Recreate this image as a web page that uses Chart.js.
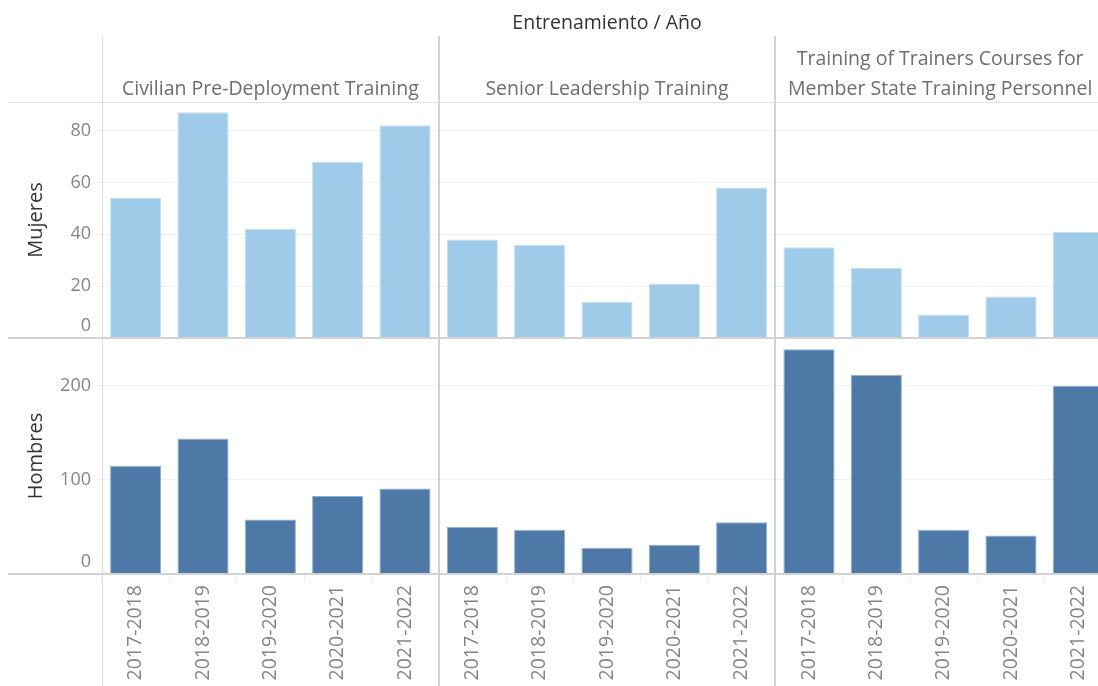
<!DOCTYPE html>
<html>
<head>
<meta charset="utf-8">
<script src="https://cdn.jsdelivr.net/npm/chart.js@4.4.1/dist/chart.umd.min.js"></script>
<style>
  html, body { margin: 0; padding: 0; background: #fff; overflow: hidden; }
  #wrap { position: absolute; left: 0; top: 0; width: 1112px; height: 686px; }
</style>
</head>
<body>
<div id="wrap"><canvas id="chart"></canvas></div>
<script>
// Entrenamientos (columnas) y años
const trainings = [
    ['Civilian Pre-Deployment Training'],
    ['Senior Leadership Training'],
    ['Training of Trainers Courses for', 'Member State Training Personnel']
];
const years = ['2017-2018', '2018-2019', '2019-2020', '2020-2021', '2021-2022'];

// Mujeres por entrenamiento
const mujeresCivilian = [54, 87, 42, 68, 82];
const mujeresSenior = [38, 36, 14, 21, 58];
const mujeresTrainers = [35, 27, 9, 16, 41];

// Hombres por entrenamiento
const hombresCivilian = [115, 144, 58, 83, 91];
const hombresSenior = [50, 47, 28, 31, 55];
const hombresTrainers = [239, 212, 47, 41, 200];

const mujeresTicks = [0, 20, 40, 60, 80];
const hombresTicks = [0, 100, 200];

const FONT = "'Open Sans', sans-serif";
const TICK_COLOR = '#858585';

const labels = trainings.flatMap(() => years);
const mujeres = [...mujeresCivilian, ...mujeresSenior, ...mujeresTrainers];
const hombres = [...hombresCivilian, ...hombresSenior, ...hombresTrainers];

// Cabeceras, separadores y etiquetas "0" al estilo Tableau
const panesPlugin = {
    id: 'panes',
    afterDraw(chart) {
        const { ctx, chartArea, scales } = chart;
        const x = scales.x, yM = scales.yM, yH = scales.yH;
        const half = (x.getPixelForValue(1) - x.getPixelForValue(0)) / 2;
        const edges = [0, 5, 10].map(i => x.getPixelForValue(i) - half);
        const rightEdge = chartArea.right;

        ctx.save();
        // linea superior del panel
        ctx.strokeStyle = '#e2e2e2';
        ctx.lineWidth = 1;
        ctx.beginPath();
        ctx.moveTo(8, Math.round(chartArea.top) + 0.5);
        ctx.lineTo(rightEdge, Math.round(chartArea.top) + 0.5);
        ctx.stroke();

        // lineas base
        ctx.strokeStyle = '#d2d2d2';
        ctx.lineWidth = 2;
        [yM.getPixelForValue(0), yH.getPixelForValue(0)].forEach(y => {
            ctx.beginPath();
            ctx.moveTo(8, Math.round(y));
            ctx.lineTo(rightEdge, Math.round(y));
            ctx.stroke();
        });

        // separadores verticales
        edges.forEach((ex, i) => {
            ctx.strokeStyle = i === 0 ? '#dcdcdc' : '#d2d2d2';
            ctx.lineWidth = i === 0 ? 1 : 2;
            const px = i === 0 ? Math.round(ex) + 0.5 : Math.round(ex);
            ctx.beginPath();
            ctx.moveTo(px, 36);
            ctx.lineTo(px, chart.height);
            ctx.stroke();
        });

        // titulo superior
        ctx.fillStyle = '#333333';
        ctx.font = "19.5px " + FONT;
        ctx.textAlign = 'center';
        ctx.textBaseline = 'middle';
        ctx.fillText('Entrenamiento / Año', (chartArea.left + chartArea.right) / 2, 23);

        // cabeceras de columna
        ctx.fillStyle = '#6e6e6e';
        trainings.forEach((lines, i) => {
            const l = edges[i];
            const r = i < 2 ? edges[i + 1] : rightEdge;
            let cx = (l + r) / 2;
            if (i === 2) cx = (cx + (l + Math.min(r, 1098)) / 2) / 2;
            lines.forEach((t, j) => {
                const y = 89 - (lines.length - 1 - j) * 30;
                ctx.fillText(t, cx, y);
            });
        });

        // etiquetas "0" desplazadas hacia arriba
        ctx.fillStyle = TICK_COLOR;
        ctx.textAlign = 'right';
        ctx.font = "18px " + FONT;
        [yM, yH].forEach(s => {
            ctx.fillText('0', s.right - 11, s.getPixelForValue(0) - 12);
        });
        ctx.restore();
    }
};

function yScale(title, max, ticks) {
    return {
        type: 'linear',
        position: 'left',
        stack: 'panes',
        stackWeight: 1,
        min: 0,
        max: max,
        afterBuildTicks: s => { s.ticks = ticks.map(v => ({ value: v })); },
        ticks: {
            color: TICK_COLOR,
            font: { family: FONT, size: 18 },
            padding: 5,
            callback: v => v === 0 ? '' : v
        },
        grid: {
            color: c => c.tick && c.tick.value === 0 ? 'rgba(0,0,0,0)' : '#efefef',
            tickLength: 6
        },
        border: { display: false },
        title: {
            display: true,
            text: title,
            color: '#333333',
            font: { family: FONT, size: 20 },
            padding: { top: 24, bottom: 0 }
        },
        afterFit: s => { s.width = 102; }
    };
}

const ctx = document.getElementById('chart').getContext('2d');
new Chart(ctx, {
    type: 'bar',
    data: {
        labels: labels,
        datasets: [
            {
                label: 'Mujeres',
                data: mujeres,
                yAxisID: 'yM',
                grouped: false,
                backgroundColor: '#a0cbe8',
                borderColor: '#c4e0f3',
                borderWidth: 1,
                categoryPercentage: 1,
                barPercentage: 0.76
            },
            {
                label: 'Hombres',
                data: hombres,
                yAxisID: 'yH',
                grouped: false,
                backgroundColor: '#4e79a7',
                borderColor: '#8fb0d0',
                borderWidth: 1,
                categoryPercentage: 1,
                barPercentage: 0.76
            }
        ]
    },
    options: {
        responsive: true,
        maintainAspectRatio: false,
        animation: false,
        layout: { padding: { top: 102, left: 0, right: 0, bottom: 0 } },
        plugins: {
            legend: { display: false },
            tooltip: { enabled: false }
        },
        scales: {
            x: {
                type: 'category',
                offset: true,
                grid: {
                    offset: true,
                    drawOnChartArea: false,
                    tickLength: 8,
                    color: '#ececec'
                },
                border: { display: false },
                ticks: {
                    autoSkip: false,
                    minRotation: 90,
                    maxRotation: 90,
                    padding: 3,
                    color: TICK_COLOR,
                    font: { family: FONT, size: 19.5 }
                },
                afterFit: s => { s.height = 112; }
            },
            yH: Object.assign(yScale('Hombres', 251, hombresTicks), { weight: 0 }),
            yM: Object.assign(yScale('Mujeres', 91, mujeresTicks), { weight: 1 })
        }
    },
    plugins: [panesPlugin]
});
</script>
</body>
</html>
